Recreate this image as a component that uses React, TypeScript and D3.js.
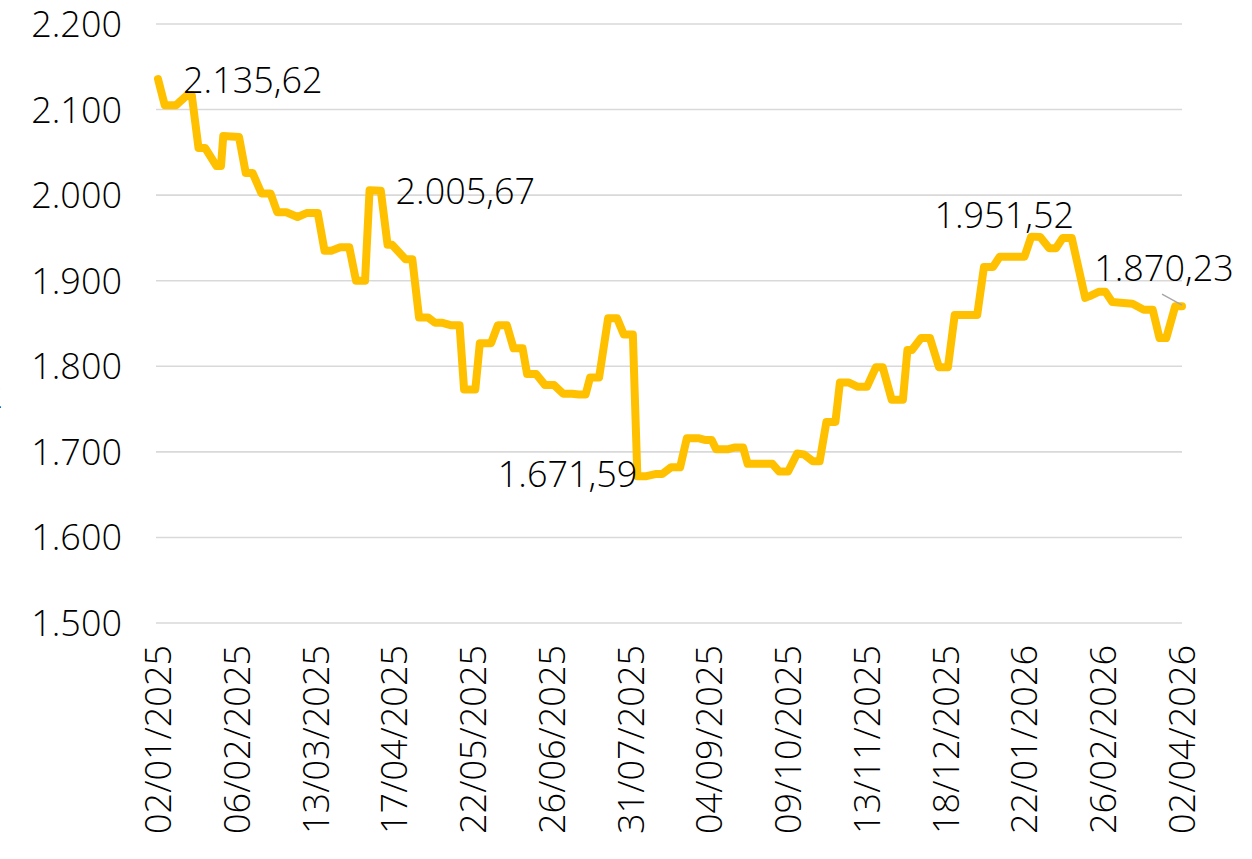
import React from "react";
import * as d3 from "d3";

// ---- data ----
const dates: string[] = [
  "2025-01-02","2025-01-05","2025-01-10","2025-01-15","2025-01-17","2025-01-20","2025-01-23","2025-01-28",
  "2025-01-30","2025-01-31","2025-02-07","2025-02-10","2025-02-13","2025-02-17","2025-02-21","2025-02-24",
  "2025-02-28","2025-03-05","2025-03-09","2025-03-14","2025-03-17","2025-03-20","2025-03-24","2025-03-28",
  "2025-03-31","2025-04-04","2025-04-06","2025-04-11","2025-04-14","2025-04-16","2025-04-22","2025-04-25",
  "2025-04-28","2025-05-02","2025-05-05","2025-05-08","2025-05-12","2025-05-16","2025-05-18","2025-05-23",
  "2025-05-25","2025-05-30","2025-06-02","2025-06-06","2025-06-09","2025-06-13","2025-06-15","2025-06-19",
  "2025-06-23","2025-06-27","2025-07-01","2025-07-05","2025-07-08","2025-07-11","2025-07-13","2025-07-17",
  "2025-07-21","2025-07-25","2025-07-28","2025-08-01","2025-08-03","2025-08-07","2025-08-11","2025-08-14",
  "2025-08-18","2025-08-22","2025-08-25","2025-08-30","2025-09-02","2025-09-05","2025-09-07","2025-09-12",
  "2025-09-15","2025-09-19","2025-09-21","2025-09-26","2025-09-29","2025-10-02","2025-10-05","2025-10-09",
  "2025-10-13","2025-10-16","2025-10-20","2025-10-23","2025-10-26","2025-10-30","2025-11-01","2025-11-05",
  "2025-11-09","2025-11-13","2025-11-17","2025-11-20","2025-11-24","2025-11-29","2025-12-01","2025-12-03",
  "2025-12-07","2025-12-11","2025-12-15","2025-12-19","2025-12-22","2026-01-01","2026-01-04","2026-01-08",
  "2026-01-11","2026-01-22","2026-01-25","2026-01-29","2026-02-02","2026-02-05","2026-02-08","2026-02-12",
  "2026-02-18","2026-02-20","2026-02-24","2026-02-27","2026-03-02","2026-03-07","2026-03-11","2026-03-16",
  "2026-03-20","2026-03-23","2026-03-26","2026-03-30","2026-04-02",
];
const values: number[] = [
  2135.62,2105,2105,2117,2117,2055,2055,2034,
  2034,2069,2068,2026,2026,2002,2002,1980,
  1980,1974.5,1979,1979,1935,1935,1939,1939,
  1900,1900,2005.67,2005,1942,1942,1925,1925,
  1857,1857,1851,1851,1848,1848,1773,1773,
  1827,1827,1848,1848,1821,1821,1791,1791,
  1778,1778,1768,1768,1767,1767,1787,1787,
  1856,1856,1837,1837,1671.59,1671.6,1674,1674,
  1682,1682,1716,1716,1714,1714,1703,1703,
  1705,1705,1686,1686,1686,1686,1677,1677,
  1698,1697,1689,1689,1735,1735,1781,1781,
  1776,1776,1799,1799,1761,1761,1819,1819,
  1833,1833,1799,1799,1860,1860,1916,1916,
  1928,1928,1951.52,1951,1938,1938,1950,1950,
  1880,1882,1887,1887,1875,1874,1873,1866,
  1866,1833,1833,1870.23,1870.23,
];
const xTickLabels: string[] = [
  "02/01/2025","06/02/2025","13/03/2025","17/04/2025","22/05/2025","26/06/2025","31/07/2025",
  "04/09/2025","09/10/2025","13/11/2025","18/12/2025","22/01/2026","26/02/2026","02/04/2026",
];
const yTicks: number[] = [1500, 1600, 1700, 1800, 1900, 2000, 2100, 2200];
const labelDates: string[] = ["2025-01-02", "2025-04-06", "2025-08-03", "2026-01-25", "2026-04-02"];
const labelValues: number[] = [2135.62, 2005.67, 1671.59, 1951.52, 1870.23];

// ---- layout ----
const W = 1252, H = 859;
const M = { left: 158, right: 70, top: 24, bottom: 236 };
const FONT = "'Open Sans', sans-serif";
const FS = 36;
const FW = 300;

const parse = d3.timeParse("%Y-%m-%d");
const parseTick = d3.timeParse("%d/%m/%Y");
const locale = d3.formatLocale({ decimal: ",", thousands: ".", grouping: [3], currency: ["", "€"] });
const fmtTick = locale.format(",.0f");
const fmtLabel = locale.format(",.2f");

export default function App() {
  const x = d3.scaleTime()
    .domain([parse("2025-01-02") as Date, parse("2026-04-02") as Date])
    .range([M.left, W - M.right]);
  const y = d3.scaleLinear().domain([1500, 2200]).range([H - M.bottom, M.top]);

  const pts = dates.map((d, i) => [parse(d) as Date, values[i]] as [Date, number]);
  const line = d3.line<[Date, number]>().x((d) => x(d[0])).y((d) => y(d[1]));

  const lp = labelDates.map((d, i) => ({ x: x(parse(d) as Date), y: y(labelValues[i]), t: fmtLabel(labelValues[i]) }));

  return (
    <svg width={W} height={H} style={{ position: "absolute", left: 0, top: 0, background: "#fff" }} fontFamily={FONT} fontWeight={FW}>
      {yTicks.map((t) => (
        <g key={t}>
          <line x1={M.left - 2} x2={W - M.right} y1={y(t)} y2={y(t)} stroke="#D9D9D9" strokeWidth={1.6} />
          <text x={122} y={y(t)} dy="0.36em" textAnchor="end" fontSize={FS} fill="#000">{fmtTick(t)}</text>
        </g>
      ))}
      <text x={3} y={408} textAnchor="end" fontSize={FS} fill="#000">2</text>
      {xTickLabels.map((l) => {
        const px = x(parseTick(l) as Date);
        return (
          <text key={l} transform={`translate(${px},${645}) rotate(-90)`} dy="0.36em" textAnchor="end" fontSize={FS} fill="#000">
            {l}
          </text>
        );
      })}
      <path d={line(pts) || ""} fill="none" stroke="#FFC000" strokeWidth={8} strokeLinejoin="round" strokeLinecap="round" />
      <line x1={lp[4].x - 20} y1={lp[4].y - 12} x2={lp[4].x} y2={lp[4].y - 1} stroke="#A6A6A6" strokeWidth={1.3} />
      <text x={lp[0].x + 25} y={lp[0].y + 1} dy="0.36em" textAnchor="start" fontSize={FS}>{lp[0].t}</text>
      <text x={lp[1].x + 26} y={lp[1].y + 1} dy="0.36em" textAnchor="start" fontSize={FS}>{lp[1].t}</text>
      <text x={lp[2].x} y={lp[2].y - 2} dy="0.36em" textAnchor="end" fontSize={FS}>{lp[2].t}</text>
      <text x={lp[3].x - 27} y={lp[3].y - 22} dy="0.36em" textAnchor="middle" fontSize={FS}>{lp[3].t}</text>
      <text x={lp[4].x - 18} y={lp[4].y - 38} dy="0.36em" textAnchor="middle" fontSize={FS}>{lp[4].t}</text>
    </svg>
  );
}
